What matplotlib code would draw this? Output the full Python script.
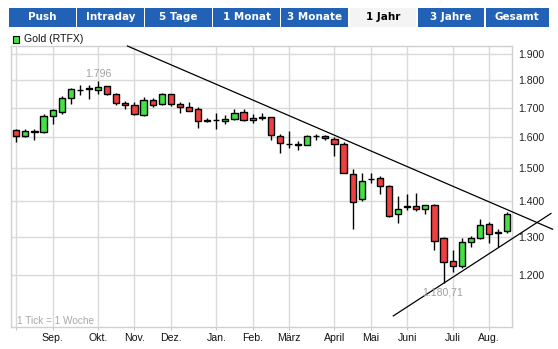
import matplotlib
matplotlib.use("Agg")
import matplotlib.pyplot as plt
from matplotlib.patches import Rectangle
from matplotlib.ticker import FixedLocator, NullLocator, FuncFormatter

plt.rcParams['font.family'] = ['Liberation Sans', 'DejaVu Sans']

# weekly gold candles (USD), one per week
opens = [1623, 1604, 1618, 1616, 1671, 1686, 1735, 1765, 1770, 1764,
         1777, 1749, 1716, 1709, 1673, 1729, 1712, 1748, 1712, 1701,
         1694, 1657, 1658, 1655, 1659, 1685, 1656, 1666, 1666, 1604,
         1576, 1575, 1574, 1602, 1603, 1594, 1577, 1482, 1407, 1467,
         1468, 1444, 1362, 1384, 1385, 1376, 1389, 1297, 1236, 1222,
         1285, 1297, 1334, 1313, 1314]
highs = [1626, 1626, 1626, 1678, 1696, 1741, 1771, 1782, 1782, 1796,
         1777, 1752, 1725, 1720, 1737, 1733, 1752, 1750, 1719, 1719,
         1701, 1664, 1681, 1673, 1694, 1694, 1677, 1681, 1667, 1608,
         1619, 1586, 1605, 1610, 1607, 1598, 1582, 1495, 1485, 1485,
         1475, 1446, 1415, 1420, 1423, 1389, 1390, 1300, 1264, 1297,
         1302, 1349, 1341, 1320, 1369]
lows = [1584, 1599, 1589, 1613, 1642, 1678, 1713, 1746, 1732, 1751,
        1745, 1711, 1694, 1673, 1670, 1701, 1710, 1706, 1680, 1687,
        1631, 1650, 1626, 1643, 1656, 1653, 1647, 1656, 1591, 1548,
        1562, 1558, 1572, 1591, 1589, 1539, 1483, 1321, 1400, 1452,
        1420, 1355, 1337, 1374, 1372, 1363, 1264, 1180.71, 1208, 1218,
        1272, 1293, 1282, 1272, 1311]
closes = [1603, 1619, 1615, 1671, 1692, 1733, 1768, 1763, 1768, 1776,
          1748, 1717, 1709, 1677, 1728, 1708, 1748, 1712, 1701, 1690,
          1653, 1655, 1657, 1661, 1680, 1656, 1665, 1664, 1605, 1579,
          1575, 1573, 1603, 1603, 1595, 1577, 1485, 1398, 1459, 1465,
          1444, 1357, 1378, 1382, 1376, 1387, 1289, 1234, 1223, 1285,
          1295, 1333, 1306, 1311, 1362]

month_weeks = [0, 4, 9, 13, 17, 22, 26, 30, 35, 39, 43, 48, 52]
month_labels = ['', 'Sep.', 'Okt.', 'Nov.', 'Dez.', 'Jan.', 'Feb.', 'März',
                'April', 'Mai', 'Juni', 'Juli', 'Aug.']
price_ticks = [1200, 1300, 1400, 1500, 1600, 1700, 1800, 1900]

# trend lines: (week, price) end points
upper_trend = ([12.23, 59.0], [1933, 1320])
lower_trend = ([41.47, 58.82], [1102, 1364])

tabs = ['Push', 'Intraday', '5 Tage', '1 Monat', '3 Monate', '1 Jahr', '3 Jahre', 'Gesamt']
active_tab = '1 Jahr'

W, H = 558, 349


def de(v, dec=0):
    s = f"{v:,.{dec}f}"
    return s.replace(',', '#').replace('.', ',').replace('#', '.')


fig = plt.figure(figsize=(W / 100, H / 100), dpi=100)
fig.patch.set_facecolor('white')

ax = fig.add_axes([11 / W, 1 - 327 / H, 500.7 / W, 281 / H])
ax.set_yscale('log')
ax.set_xlim(-0.583, 54.5)
ax.set_ylim(1076.9, 1933.1)

grid_c = '#dadada'
for s in ax.spines.values():
    s.set_color('#d0d0d0')
    s.set_linewidth(1)

ax.yaxis.set_major_locator(FixedLocator(price_ticks))
ax.yaxis.set_minor_locator(NullLocator())
ax.yaxis.set_major_formatter(FuncFormatter(lambda v, p: de(v)))
ax.yaxis.tick_right()
ax.tick_params(axis='y', length=0, pad=4.5, labelsize=7.6, labelcolor='#222222')

ax.set_xticks(month_weeks)
ax.set_xticklabels(month_labels)
ax.tick_params(axis='x', length=2, color='#c8c8c8', pad=2.5, labelsize=7.6,
               labelcolor='#111111')
ax.grid(True, color=grid_c, linewidth=1)
ax.set_axisbelow(True)

# candles
weeks = list(range(len(opens)))
up_c, down_c = '#45e045', '#ee4040'
ax.vlines(weeks, lows, highs, color='black', linewidth=1, zorder=3)
bottoms = [min(o, c) for o, c in zip(opens, closes)]
heights = [max(abs(c - o), 0.5) for o, c in zip(opens, closes)]
colors = [up_c if c >= o else down_c for o, c in zip(opens, closes)]
ax.bar(weeks, heights, bottom=bottoms, width=0.68, color=colors,
       edgecolor='black', linewidth=1, zorder=4)

# trend lines
for xs, ys in (upper_trend, lower_trend):
    ax.plot(xs, ys, color='black', linewidth=0.9, clip_on=False, zorder=5)

# high / low labels
hi = max(range(len(highs)), key=lambda i: highs[i])
lo = min(range(len(lows)), key=lambda i: lows[i])
ax.annotate(de(highs[hi]), (hi, highs[hi]), xytext=(0, 2), textcoords='offset pixels',
            ha='center', va='bottom', fontsize=7.6, color='#a0a0a0', zorder=6)
ax.annotate(de(lows[lo], 2), (lo, lows[lo]), xytext=(-1, -5), textcoords='offset pixels',
            ha='center', va='top', fontsize=7.6, color='#a0a0a0', zorder=6)

ax.text(0.0126, 0.022, '1 Tick = 1 Woche', transform=ax.transAxes, fontsize=7.2,
        color='#a8a8a8', va='center', ha='left')

# legend
fig.patches.append(Rectangle((12.5 / W, 1 - 43 / H), 6.5 / W, 7 / H, transform=fig.transFigure,
                             facecolor=up_c, edgecolor='black', linewidth=0.8))
fig.text(24 / W, 1 - 39.5 / H, 'Gold (RTFX)', fontsize=7.6, color='#111111', va='center')

# period tabs
tab_left = 9.0
tab_w = 66.7
tab_gap = 1.4
for k, name in enumerate(tabs):
    x0 = tab_left + k * (tab_w + tab_gap)
    active = name == active_tab
    fc = '#f4f4f4' if active else '#2262b6'
    tc = 'black' if active else 'white'
    w = tab_w if k < len(tabs) - 1 else 548.5 - x0
    fig.patches.append(Rectangle((x0 / W, 1 - 27 / H), w / W, 19 / H,
                                 transform=fig.transFigure, facecolor=fc, edgecolor='none'))
    fig.text((x0 + w / 2) / W, 1 - 17.3 / H, name, fontsize=7.5, fontweight='bold',
             family='DejaVu Sans', color=tc, ha='center', va='center')

fig.savefig('out.png', dpi=100)
